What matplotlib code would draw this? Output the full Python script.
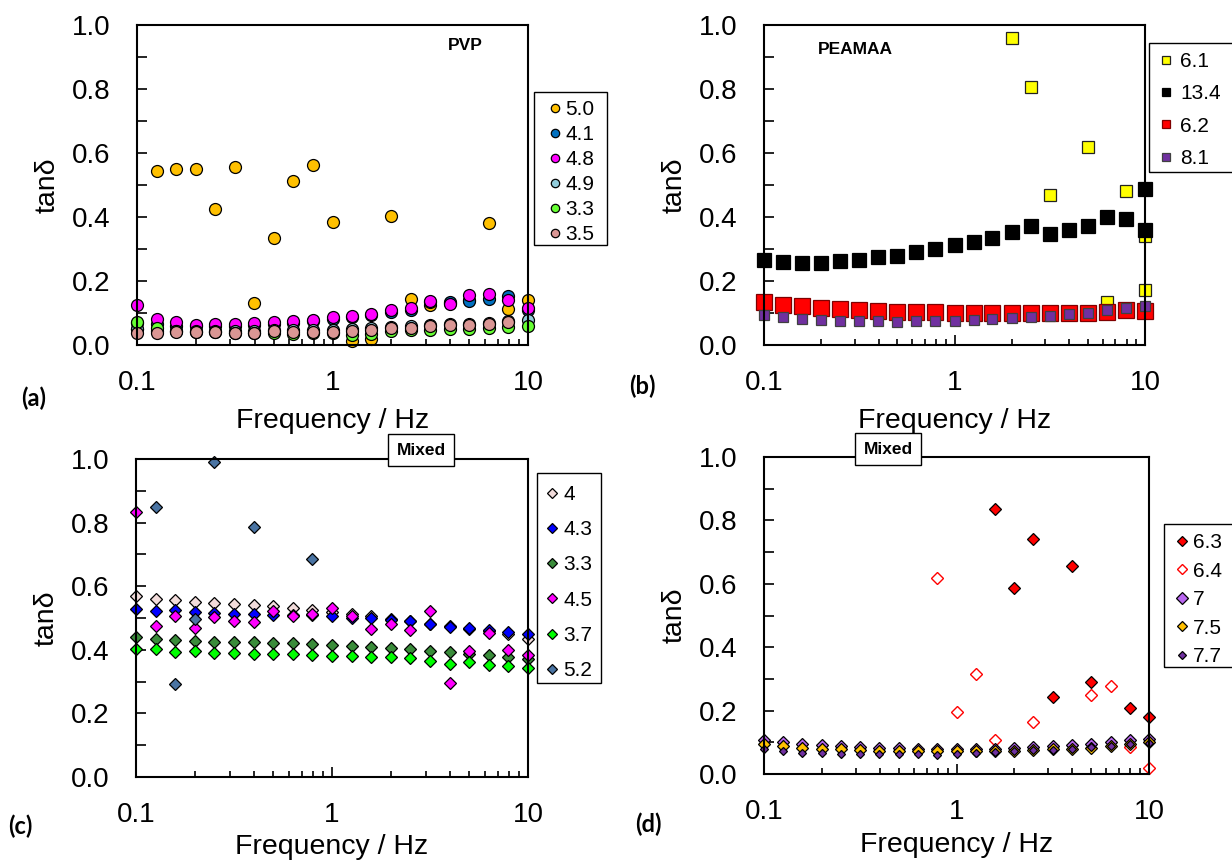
import numpy as np
import matplotlib.pyplot as plt
from matplotlib.patches import Rectangle
from matplotlib.ticker import MultipleLocator, FixedLocator, NullFormatter

plt.rcParams['font.family'] = ['Liberation Sans', 'DejaVu Sans']

W, H = 1232, 861

# frequencies (Hz), 10 points per decade
freq = [0.1, 0.126, 0.158, 0.2, 0.251, 0.316, 0.398, 0.501, 0.631, 0.794,
        1.0, 1.26, 1.58, 2.0, 2.51, 3.16, 3.98, 5.01, 6.31, 7.94, 10.0]

# (a) PVP
pvp_50 = [0.05, 0.545, 0.55, 0.55, 0.424, 0.557, 0.131, 0.333, 0.512, 0.562, 0.384,
          0.013, 0.018, 0.404, 0.143, 0.125, 0.13, 0.14, 0.381, 0.113, 0.141]
pvp_41 = [0.07, 0.065, 0.06, 0.058, 0.06, 0.06, 0.062, 0.066, 0.07, 0.074, 0.08,
          0.086, 0.093, 0.102, 0.11, 0.133, 0.135, 0.139, 0.145, 0.152, 0.11]
pvp_48 = [0.126, 0.082, 0.071, 0.063, 0.067, 0.065, 0.068, 0.071, 0.075, 0.079, 0.087,
          0.091, 0.098, 0.108, 0.115, 0.138, 0.128, 0.155, 0.159, 0.141, 0.115]
pvp_49 = [0.05, 0.045, 0.045, 0.044, 0.045, 0.044, 0.045, 0.046, 0.046, 0.047, 0.048,
          0.05, 0.052, 0.056, 0.058, 0.062, 0.065, 0.067, 0.07, 0.074, 0.079]
pvp_33 = [0.073, 0.054, 0.045, 0.042, 0.04, 0.036, 0.036, 0.038, 0.033, 0.037, 0.038,
          0.032, 0.034, 0.045, 0.047, 0.048, 0.05, 0.05, 0.052, 0.055, 0.058]
pvp_35 = [0.039, 0.037, 0.040, 0.040, 0.042, 0.039, 0.039, 0.045, 0.040, 0.042, 0.042,
          0.044, 0.047, 0.054, 0.054, 0.060, 0.063, 0.063, 0.065, 0.071, np.nan]

# (b) PEAMAA
freq_61 = [2.0, 2.51, 3.16, 5.01, 6.31, 7.94, 10.0, 10.0]
pea_61 = [0.958, 0.805, 0.470, 0.619, 0.134, 0.481, 0.34, 0.172]
freq_134 = freq + [10.0]
pea_134 = [0.267, 0.258, 0.255, 0.255, 0.262, 0.266, 0.275, 0.279, 0.290, 0.300, 0.312,
           0.323, 0.333, 0.352, 0.372, 0.348, 0.358, 0.373, 0.399, 0.395, 0.489, 0.358]
pea_62 = [0.134, 0.126, 0.121, 0.116, 0.111, 0.109, 0.106, 0.104, 0.103, 0.102, 0.100,
          0.100, 0.100, 0.099, 0.099, 0.100, 0.101, 0.101, 0.102, 0.108, 0.105]
pea_81 = [0.093, 0.087, 0.082, 0.078, 0.076, 0.074, 0.074, 0.073, 0.074, 0.074, 0.076,
          0.078, 0.080, 0.083, 0.087, 0.092, 0.096, 0.100, 0.108, 0.116, 0.122]

# (c) Mixed
mix_4 = [0.568, 0.561, 0.558, 0.551, 0.548, 0.543, 0.540, 0.537, 0.530, 0.524, 0.518,
         0.513, 0.505, 0.497, 0.490, 0.482, 0.474, 0.466, 0.458, 0.451, 0.434]
mix_43 = [0.529, 0.521, 0.525, 0.520, 0.515, 0.513, 0.513, 0.510, 0.509, 0.510, 0.505,
          0.500, 0.500, 0.495, 0.490, 0.481, 0.473, 0.469, 0.463, 0.455, 0.449]
mix_33 = [0.439, 0.435, 0.431, 0.429, 0.426, 0.425, 0.423, 0.421, 0.420, 0.419, 0.414,
          0.411, 0.408, 0.405, 0.401, 0.397, 0.392, 0.388, 0.383, 0.376, 0.371]
mix_45 = [0.834, 0.476, 0.505, 0.469, 0.504, 0.492, 0.486, 0.522, 0.505, 0.514, 0.531,
          0.507, 0.466, 0.481, 0.462, 0.523, 0.296, 0.397, 0.453, 0.398, 0.383]
mix_37 = [0.403, 0.404, 0.392, 0.395, 0.391, 0.390, 0.388, 0.386, 0.386, 0.384, 0.382,
          0.381, 0.378, 0.376, 0.374, 0.366, 0.356, 0.362, 0.352, 0.349, 0.342]
freq_52 = [0.126, 0.158, 0.2, 0.251, 0.398, 0.794]
mix_52 = [0.848, 0.292, 0.498, 0.991, 0.785, 0.684]

# (d) Mixed
freq_63 = [1.58, 2.0, 2.51, 3.16, 3.98, 5.01, 7.94, 10.0]
mix_63 = [0.835, 0.586, 0.741, 0.244, 0.655, 0.289, 0.208, 0.180]
freq_64 = [0.794, 1.0, 1.26, 1.58, 2.51, 5.01, 6.31, 7.94, 10.0]
mix_64 = [0.618, 0.197, 0.317, 0.108, 0.165, 0.250, 0.278, 0.084, 0.019]
mix_7 = [0.108, 0.101, 0.094, 0.090, 0.087, 0.084, 0.082, 0.082, 0.080, 0.079, 0.079,
         0.079, 0.079, 0.082, 0.084, 0.087, 0.090, 0.094, 0.100, 0.106, 0.111]
mix_75 = [0.095, 0.088, 0.083, 0.080, 0.078, 0.076, 0.074, 0.073, 0.072, 0.071, 0.071,
          0.071, 0.072, 0.073, 0.075, 0.078, 0.080, 0.083, 0.088, 0.095, 0.100]
mix_77 = [0.079, 0.071, 0.066, 0.066, 0.064, 0.064, 0.063, 0.063, 0.063, 0.061, 0.063,
          0.066, 0.068, 0.071, 0.075, 0.075, 0.080, 0.084, 0.087, 0.094, 0.098]


def px_box(left, right, top, bottom):
    return [left / W, 1 - bottom / H, (right - left) / W, (bottom - top) / H]


def style_ax(ax, xlabelpad=9):
    ax.set_xscale('log')
    ax.set_xlim(0.1, 10)
    ax.set_ylim(0, 1)
    ax.set_yticks([0, 0.2, 0.4, 0.6, 0.8, 1.0])
    ax.set_yticklabels(['0.0', '0.2', '0.4', '0.6', '0.8', '1.0'])
    ax.yaxis.set_minor_locator(MultipleLocator(0.1))
    ax.xaxis.set_major_locator(FixedLocator([0.1, 1, 10]))
    ax.set_xticklabels(['0.1', '1', '10'])
    ax.xaxis.set_minor_formatter(NullFormatter())
    ax.tick_params(which='both', direction='in', top=False, right=False,
                   labelsize=20, width=1.2)
    ax.tick_params(axis='y', which='both', length=7, pad=19)
    ax.tick_params(axis='x', which='major', length=7, pad=18)
    ax.tick_params(axis='x', which='minor', length=4.5)
    for s in ax.spines.values():
        s.set_linewidth(1.5)
    ax.set_xlabel('Frequency / Hz', fontsize=20.5, labelpad=xlabelpad)
    ax.set_ylabel('tanδ', fontsize=20.5, labelpad=8)


def boxed_legend(ax, box, marker_x, text_x, top, spacing, mscale):
    # legend entries without frame, plus a plain black box drawn around them
    left, right, btop, bottom = box
    fig.patches.append(Rectangle((left / W, 1 - bottom / H), (right - left) / W,
                                 (bottom - btop) / H, transform=fig.transFigure,
                                 fill=False, ec='black', lw=1.0))
    fs = 15
    fs_px = fs * 100 / 72
    hl = 0.7
    leg_left = marker_x - hl * fs_px / 2
    tpad = (text_x - (leg_left + hl * fs_px)) / fs_px
    leg = ax.legend(loc='upper left', bbox_to_anchor=(leg_left / W, 1 - top / H),
                    bbox_transform=fig.transFigure, borderaxespad=0, borderpad=0,
                    frameon=False, fontsize=fs, handlelength=hl, handletextpad=tpad,
                    labelspacing=spacing, markerscale=mscale)
    return leg


fig = plt.figure(figsize=(W / 100, H / 100), dpi=100)

# ---- (a) PVP
ax_a = fig.add_axes(px_box(137, 528, 25, 345))
circ = [(pvp_50, '#FFC000', '5.0'), (pvp_41, '#0070C0', '4.1'), (pvp_48, '#FF00FF', '4.8'),
        (pvp_49, '#92CDDC', '4.9'), (pvp_33, '#66FF33', '3.3'), (pvp_35, '#DA9694', '3.5')]
for vals, col, lab in circ:
    ax_a.plot(freq, vals, 'o', ms=8.6, mfc=col, mec='black', mew=0.9,
              label=lab, clip_on=False)
style_ax(ax_a)
ax_a.text(0.84, 0.935, 'PVP', transform=ax_a.transAxes, fontsize=12.5,
          fontweight='bold', ha='center', va='center')
boxed_legend(ax_a, (534, 607, 92, 245), 555, 565, 100, 0.29, 0.7)

# ---- (b) PEAMAA
ax_b = fig.add_axes(px_box(764, 1145, 25, 345))
ax_b.plot(freq_61, pea_61, 's', ms=8.6, mfc='#FFFF00', mec='#222222', mew=0.9,
          label='6.1', clip_on=False)
ax_b.plot(freq_134, pea_134, 's', ms=9.4, mfc='black', mec='black', mew=0.9,
          label='13.4', clip_on=False)
ax_b.plot(freq, pea_62, 's', ms=11.5, mfc='#FF0000', mec='#7F0000', mew=0.9,
          label='6.2', clip_on=False)
ax_b.plot(freq, pea_81, 's', ms=7.2, mfc='#7030A0', mec='#404040', mew=0.9,
          label='8.1', clip_on=False)
style_ax(ax_b)
ax_b.text(0.24, 0.925, 'PEAMAA', transform=ax_b.transAxes, fontsize=12.5,
          fontweight='bold', ha='center', va='center')
leg_b = boxed_legend(ax_b, (1149, 1240, 43, 172), 1166, 1180, 52, 0.64, 1.0)
for h in leg_b.legend_handles:
    h.set_markersize(6)

# ---- (c) Mixed
ax_c = fig.add_axes(px_box(136, 528, 459, 777))
dia_c = [(freq, mix_4, '#F2DCDB', '4'), (freq, mix_43, '#0000FF', '4.3'),
         (freq, mix_33, '#3A8C3A', '3.3'), (freq, mix_45, '#FF00FF', '4.5'),
         (freq, mix_37, '#00FF00', '3.7'), (freq_52, mix_52, '#4A74A3', '5.2')]
for xs, vals, col, lab in dia_c:
    ax_c.plot(xs, vals, 'D', ms=6.5, mfc=col, mec='black', mew=0.9,
              label=lab, clip_on=False)
style_ax(ax_c, xlabelpad=4.5)
boxed_legend(ax_c, (537, 601, 473, 683), 552, 563, 485, 0.78, 0.72)
fig.text(421 / W, 1 - 450 / H, 'Mixed', fontsize=12.5, fontweight='bold',
         ha='center', va='center',
         bbox=dict(boxstyle='square,pad=0.5', fc='white', ec='black', lw=1))

# ---- (d) Mixed
ax_d = fig.add_axes(px_box(764, 1149, 457, 774))
ax_d.plot(freq_63, mix_63, 'D', ms=5.8, mfc='#FF0000', mec='black', mew=0.9,
          label='6.3', clip_on=False)
ax_d.plot(freq_64, mix_64, 'D', ms=5.8, mfc='white', mec='#FF0000', mew=1.0,
          label='6.4', clip_on=False)
ax_d.plot(freq, mix_7, 'D', ms=6.6, mfc='#B966F0', mec='black', mew=0.9,
          label='7', clip_on=False)
ax_d.plot(freq, mix_75, 'D', ms=5.8, mfc='#FFC000', mec='black', mew=0.9,
          label='7.5', clip_on=False)
ax_d.plot(freq, mix_77, 'D', ms=4.2, mfc='#7030A0', mec='black', mew=0.9,
          label='7.7', clip_on=False)
style_ax(ax_d, xlabelpad=5)
boxed_legend(ax_d, (1164, 1240, 524, 667), 1182, 1193, 533, 0.46, 0.95)
fig.text(888 / W, 1 - 449 / H, 'Mixed', fontsize=12.5, fontweight='bold',
         ha='center', va='center',
         bbox=dict(boxstyle='square,pad=0.5', fc='white', ec='black', lw=1))

# panel letters
for lab, x, y in [('(a)', 34, 398), ('(b)', 642, 386), ('(c)', 20, 826), ('(d)', 648, 824)]:
    fig.text(x / W, 1 - y / H, lab, fontsize=17, fontweight='bold',
             family=['Lato', 'DejaVu Sans'], ha='center', va='center')

fig.savefig('out.png', dpi=100)
